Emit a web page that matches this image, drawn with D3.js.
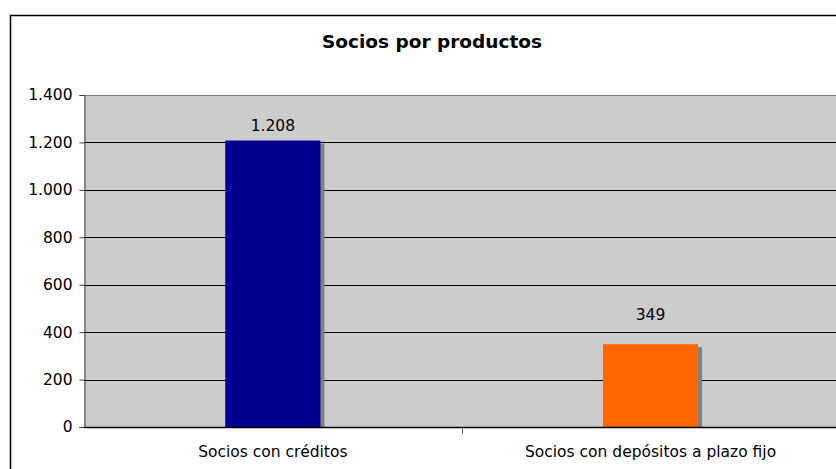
<!DOCTYPE html>
<html>
<head>
<meta charset="utf-8">
<script src="https://cdn.jsdelivr.net/npm/d3@7/dist/d3.min.js"></script>
<style>
  html, body { margin: 0; padding: 0; background: #fff; }
  svg { display: block; font-family: "DejaVu Sans", Verdana, sans-serif; }
</style>
</head>
<body>
<svg id="chart" width="836" height="469"></svg>
<script>
const title = "Socios por productos";
const categories = ["Socios con créditos", "Socios con depósitos a plazo fijo"];
const values = [1208, 349];
const barColors = ["#000090", "#FF6600"];
const yTicks = [0, 200, 400, 600, 800, 1000, 1200, 1400];

const locale = d3.formatLocale({ decimal: ",", thousands: ".", grouping: [3], currency: ["", ""] });
const fmt = locale.format(",d");

const svg = d3.select("#chart");
const FONT = '"DejaVu Sans", Verdana, sans-serif';
const LABEL_SIZE = 15.5;

// Chart frame
svg.append("rect").attr("x", 10.5).attr("y", 15.5).attr("width", 900).attr("height", 500)
  .attr("fill", "#fff").attr("stroke", "#000").attr("stroke-width", 1.5);

const plot = { left: 84, top: 95, right: 839.4, bottom: 427 };

const x = d3.scaleBand().domain(categories).range([plot.left, plot.right]).paddingInner(0).paddingOuter(0);
const y = d3.scaleLinear().domain([0, 1400]).range([plot.bottom, plot.top]);

// Plot background
svg.append("rect").attr("x", plot.left).attr("y", plot.top)
  .attr("width", plot.right - plot.left).attr("height", plot.bottom - plot.top)
  .attr("fill", "#cccccc");

// Gridlines
svg.append("g").selectAll("line").data(yTicks.filter(d => d > 0)).join("line")
  .attr("x1", plot.left).attr("x2", plot.right)
  .attr("y1", d => Math.round(y(d)) + 0.5).attr("y2", d => Math.round(y(d)) + 0.5)
  .attr("stroke", d => d === 1400 ? "#808080" : "#000").attr("stroke-width", 1);

// Bars with drop shadow
const barW = x.bandwidth() * 0.252;
const bars = svg.append("g");
bars.selectAll("rect.shadow").data(values).join("rect")
  .attr("class", "shadow")
  .attr("x", (d, i) => x(categories[i]) + (x.bandwidth() - barW) / 2 + 4)
  .attr("y", d => y(d) + 3)
  .attr("width", barW)
  .attr("height", d => plot.bottom - y(d) - 3)
  .attr("fill", "#808080");
bars.selectAll("rect.bar").data(values).join("rect")
  .attr("class", "bar")
  .attr("x", (d, i) => x(categories[i]) + (x.bandwidth() - barW) / 2)
  .attr("y", d => y(d))
  .attr("width", barW)
  .attr("height", d => plot.bottom - y(d))
  .attr("fill", (d, i) => barColors[i]);

// Value labels above each bar (the short bar's label sits a little higher)
const labelGap = d => (d < 600 ? 24 : 10);
svg.append("g").selectAll("text").data(values).join("text")
  .attr("x", (d, i) => x(categories[i]) + x.bandwidth() / 2)
  .attr("y", d => y(d) - labelGap(d))
  .attr("text-anchor", "middle")
  .attr("font-size", LABEL_SIZE)
  .attr("font-family", FONT)
  .attr("fill", "#000")
  .text(d => fmt(d));

// Y axis
const yAxis = d3.axisLeft(y).tickValues(yTicks).tickFormat(fmt).tickSize(5).tickPadding(7);
const gy = svg.append("g").attr("transform", `translate(${plot.left + 0.5},0)`).call(yAxis);
gy.select(".domain").attr("stroke", "#404040");
gy.selectAll(".tick line").attr("stroke", "#404040");
gy.selectAll(".tick text").attr("font-size", LABEL_SIZE).attr("fill", "#000")
  .attr("font-family", FONT);

// X axis
const gx = svg.append("g").attr("transform", `translate(0,${plot.bottom + 0.5})`);
gx.append("line").attr("x1", plot.left).attr("x2", plot.right).attr("stroke", "#000").attr("stroke-width", 1.5);
gx.selectAll("line.tick").data(categories.slice(1)).join("line")
  .attr("class", "tick")
  .attr("x1", d => Math.round(x(d)) + 0.5).attr("x2", d => Math.round(x(d)) + 0.5)
  .attr("y1", 0).attr("y2", 6).attr("stroke", "#606060");
gx.selectAll("text").data(categories).join("text")
  .attr("x", d => x(d) + x.bandwidth() / 2)
  .attr("y", 29)
  .attr("text-anchor", "middle")
  .attr("font-size", LABEL_SIZE)
  .attr("font-family", FONT)
  .attr("fill", "#000")
  .text(d => d);

// Title
svg.append("text").attr("x", 432).attr("y", 48).attr("text-anchor", "middle")
  .attr("font-size", 18.5).attr("font-weight", "bold").attr("font-family", FONT)
  .attr("fill", "#000").text(title);
</script>
</body>
</html>
